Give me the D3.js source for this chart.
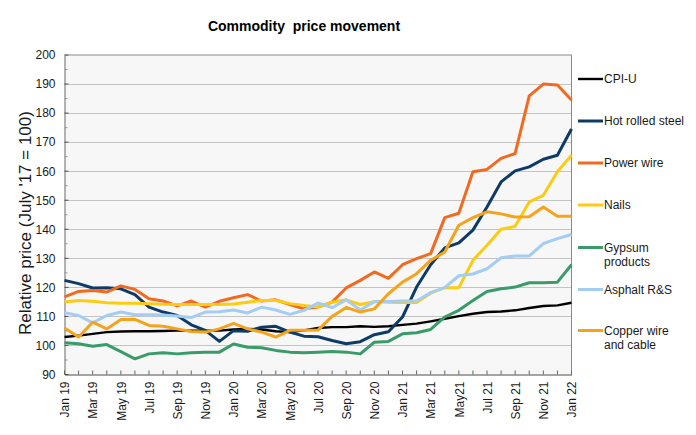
<!DOCTYPE html>
<html><head><meta charset="utf-8">
<script src="https://cdn.jsdelivr.net/npm/d3@7/dist/d3.min.js"></script>
<style>
body{margin:0;background:#fff}
svg{display:block;font-family:"Liberation Sans",Arial,sans-serif}
</style>
</head><body>
<svg id="chart" width="696" height="435"></svg>
<script>
// ---------------- DATA ----------------
const months = ["Jan 19","Feb 19","Mar 19","Apr 19","May 19","Jun 19","Jul 19","Aug 19","Sep 19","Oct 19","Nov 19","Dec 19",
  "Jan 20","Feb 20","Mar 20","Apr 20","May 20","Jun 20","Jul 20","Aug 20","Sep 20","Oct 20","Nov 20","Dec 20",
  "Jan 21","Feb 21","Mar 21","Apr 21","May 21","Jun 21","Jul 21","Aug 21","Sep 21","Oct 21","Nov 21","Dec 21","Jan 22"];
const xTickLabels = ["Jan 19","Mar 19","May 19","Jul 19","Sep 19","Nov 19","Jan 20","Mar 20","May 20","Jul 20",
  "Sep 20","Nov 20","Jan 21","Mar 21","May21","Jul 21","Sep 21","Nov 21","Jan 22"];
const yTicks = [90,100,110,120,130,140,150,160,170,180,190,200];

const seriesNames = ["CPI-U","Hot rolled steel","Power wire","Nails","Gypsum products","Asphalt R&S","Copper wire and cable"];

const cpiU = [102.9,103.4,104,104.6,104.8,104.9,104.9,105,105.1,105.1,105.1,105.1,
  105.5,105.7,105.5,104.9,104.6,105.2,106,106.3,106.3,106.6,106.4,106.6,
  107.1,107.5,108.3,109.2,110.1,110.9,111.5,111.7,112.1,112.9,113.6,113.8,114.7];
const hotRolledSteel = [122.4,121.3,119.8,119.9,119.5,117.5,113.2,111.5,110.3,107.1,105.2,101.4,
  105.1,104.9,106.3,106.6,104.6,103.2,103,101.7,100.6,101.3,103.7,104.7,
  109.8,120.1,127.8,133.6,135.3,139.7,147.7,156.3,160.1,161.5,164.1,165.5,174.5];
const powerWire = [116.7,118.6,118.9,118.4,120.5,119.3,116.1,115.3,113.6,115.3,113.2,115.2,
  116.4,117.5,115.3,115.7,114.1,112.6,113.2,114.9,119.8,122.4,125.3,123.1,
  127.8,129.9,131.6,144,145.5,159.8,160.6,164.4,166.1,185.9,190,189.7,184.5];
const nails = [115,115.5,115.2,114.7,114.5,114.5,114.4,114.2,114.1,114.1,114.1,114.1,
  114.3,114.9,115.5,115.5,114.4,113.8,113.2,114.9,115.7,114.1,115.1,114.9,
  114.8,114.8,118,119.9,119.9,129.3,134.5,140,141,149.4,151.7,159.8,165.5];
const gypsumProducts = [100.9,100.6,99.7,100.3,97.9,95.4,97.1,97.5,97.1,97.5,97.7,97.7,
  100.5,99.4,99.2,98.3,97.7,97.5,97.7,97.9,97.7,97.1,101.1,101.4,
  104,104.4,105.5,109.8,112.1,115.5,118.6,119.5,120.1,121.6,121.6,121.8,127.8];
const asphaltRS = [111.3,110.3,107.8,110.3,111.5,110.6,110.6,110.5,110.1,109.6,111.5,111.6,
  112.2,111.2,113.2,112.2,110.7,112.1,114.6,113,115.7,112.2,115.1,115.1,
  115.3,115.3,118.2,119.9,124,124.6,126.4,130.2,130.8,130.8,135.1,136.8,138.2];
const copperWireCable = [106,102.9,108,105.7,108.9,109,106.9,106.6,105.7,104.8,104.6,105.7,
  107.6,105.7,104.6,102.9,105.2,105.2,105.3,110,113.1,111.5,112.6,117.8,
  121.8,124.7,129.3,132.2,141.4,144,146,145.3,144.2,144.3,147.7,144.5,144.5];

const seriesValues = [cpiU, hotRolledSteel, powerWire, nails, gypsumProducts, asphaltRS, copperWireCable];
const seriesColors = ["#000000","#0d3a66","#f26a1f","#fccb12","#389b69","#a3cdf2","#f7a21b"];
const seriesWidths = [2.4,3,3,3,3,3,3];

// ---------------- CHART ----------------
const svg = d3.select("#chart");
const L = 64.5, R = 571.5, T = 55, B = 374.5;

const x = d3.scalePoint().domain(months).range([L, R]);
const y = d3.scaleLinear().domain([90, 200]).range([B, T]);

// plot background
svg.append("rect").attr("x", L).attr("y", T).attr("width", R - L).attr("height", B - T)
  .attr("fill", "#f7f7f7");

// gridlines
svg.append("g").selectAll("line").data(yTicks.filter(d => d > 90 && d < 200)).join("line")
  .attr("x1", L).attr("x2", R)
  .attr("y1", d => Math.round(y(d)) + 0.5).attr("y2", d => Math.round(y(d)) + 0.5)
  .attr("stroke", "#c4c4c4").attr("stroke-width", 1);

// top/right border
svg.append("path")
  .attr("d", `M${L},${T}H${R}V${B}`)
  .attr("fill", "none").attr("stroke", "#8a8a8a").attr("stroke-width", 1);

// Y axis
const yAxis = d3.axisLeft(y).tickValues(yTicks).tickSize(0).tickPadding(9);
const gy = svg.append("g").attr("transform", `translate(${L},0)`).call(yAxis);
gy.select(".domain").attr("stroke", "#6a6a6a");
gy.selectAll("text").attr("font-size", 12).attr("fill", "#1a1a1a")
  .attr("font-family", '"Liberation Sans",Arial,sans-serif');
// inward major and minor y ticks
const yMinor = d3.range(95, 200, 10);
svg.append("g").selectAll("line").data(yTicks).join("line")
  .attr("x1", L).attr("x2", L + 4)
  .attr("y1", d => y(d)).attr("y2", d => y(d))
  .attr("stroke", "#555").attr("stroke-width", 1);
svg.append("g").selectAll("line").data(yMinor).join("line")
  .attr("x1", L).attr("x2", L + 3)
  .attr("y1", d => y(d)).attr("y2", d => y(d))
  .attr("stroke", "#999").attr("stroke-width", 1);

// X axis
const xAxis = d3.axisBottom(x).tickSize(0).tickFormat((d, i) => i % 2 === 0 ? xTickLabels[i / 2] : "");
const gx = svg.append("g").attr("transform", `translate(0,${B})`).call(xAxis);
gx.select(".domain").attr("stroke", "#4a4a4a");
gx.selectAll("text")
  .attr("font-size", 12).attr("fill", "#1a1a1a")
  .attr("font-family", '"Liberation Sans",Arial,sans-serif')
  .attr("text-anchor", "end")
  .attr("transform", "rotate(-90)")
  .attr("x", -7).attr("y", 0).attr("dy", "0.36em");
// inward x ticks every month
svg.append("g").selectAll("line").data(months).join("line")
  .attr("x1", d => x(d)).attr("x2", d => x(d))
  .attr("y1", B).attr("y2", B - 4)
  .attr("stroke", "#666").attr("stroke-width", 1);

// lines
const line = d3.line().x((d, i) => x(months[i])).y(d => y(d)).curve(d3.curveLinear);
svg.append("g").selectAll("path").data(seriesValues).join("path")
  .attr("d", d => line(d))
  .attr("fill", "none")
  .attr("stroke", (d, i) => seriesColors[i])
  .attr("stroke-width", (d, i) => seriesWidths[i])
  .attr("stroke-linejoin", "round");

// legend
const legendY = [79, 121, 163, 205, 247.5, 289.5, 330.5];
const lg = svg.append("g");
seriesNames.forEach((name, i) => {
  lg.append("line").attr("x1", 578).attr("x2", 603)
    .attr("y1", legendY[i]).attr("y2", legendY[i])
    .attr("stroke", seriesColors[i]).attr("stroke-width", seriesWidths[i]);
  const parts = name === "Gypsum products" ? ["Gypsum", "products"]
              : name === "Copper wire and cable" ? ["Copper wire", "and cable"] : [name];
  const t = lg.append("text").attr("x", 604).attr("y", legendY[i]).attr("dy", "0.35em")
    .attr("font-size", 12).attr("fill", "#1a1a1a");
  parts.forEach((p, k) => t.append("tspan").attr("x", 604).attr("dy", k === 0 ? "0.35em" : "1.2em").text(p));
});

// title
svg.append("text").attr("x", 304).attr("y", 31).attr("text-anchor", "middle")
  .attr("font-size", 14).attr("font-weight", "bold").attr("fill", "#000")
  .style("white-space", "pre").text("Commodity  price movement");

// y-axis title
svg.append("text").attr("transform", "translate(31,223) rotate(-90)")
  .attr("text-anchor", "middle").attr("font-size", 17).attr("fill", "#1a1a1a")
  .text("Relative price (July '17 = 100)");
</script>
</body></html>
